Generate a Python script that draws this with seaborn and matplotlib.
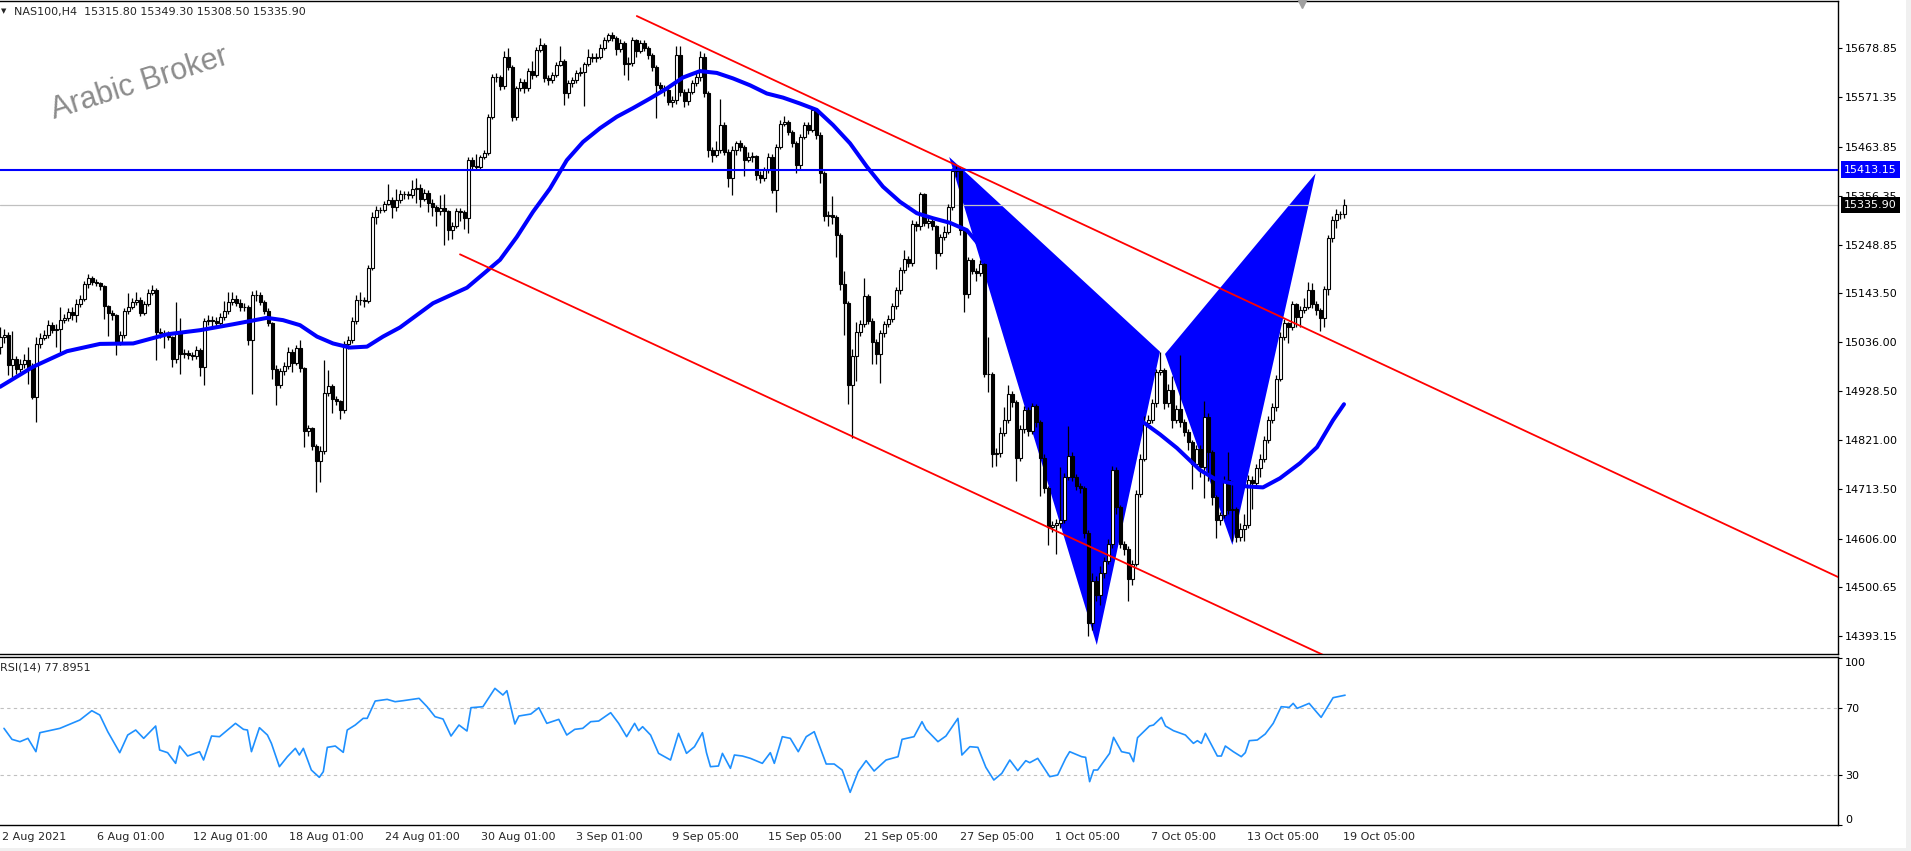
import matplotlib
matplotlib.use("Agg")
import matplotlib.pyplot as plt
import matplotlib.transforms as mtransforms
from matplotlib.patches import Rectangle
from matplotlib.lines import Line2D
import numpy as np
import seaborn as sns

sns.set_style("white")
plt.rcParams["font.family"] = ["DejaVu Sans"]

W, H = 1911, 851

# NAS100 H4 candles, bar 0 .. bar 336
first_open = 15025
closes = [
    15047, 15051, 14985, 14998, 14978, 14989, 14996, 14982, 14916, 15031,
    15046, 15051, 15074, 15062, 15064, 15085, 15089, 15101, 15095, 15119,
    15131, 15162, 15177, 15167, 15166, 15158, 15114, 15100, 15095, 15036,
    15052, 15104, 15113, 15123, 15129, 15100, 15120, 15144, 15151, 15058,
    15055, 15052, 15047, 14999, 15057, 15011, 15012, 15007, 15005, 15018,
    14982, 15082, 15084, 15082, 15078, 15091, 15104, 15123, 15131, 15122,
    15113, 15113, 15040, 15139, 15140, 15124, 15104, 15077, 14978, 14941,
    14972, 14983, 15014, 14990, 15022, 14979, 14841, 14847, 14809, 14776,
    14798, 14925, 14939, 14912, 14906, 14887, 15031, 15041, 15082, 15128,
    15128, 15126, 15199, 15310, 15326, 15326, 15339, 15348, 15331, 15346,
    15359, 15359, 15357, 15370, 15374, 15350, 15363, 15341, 15332, 15323,
    15330, 15322, 15282, 15290, 15322, 15321, 15307, 15434, 15422, 15420,
    15440, 15450, 15529, 15617, 15617, 15596, 15659, 15639, 15529, 15591,
    15606, 15591, 15629, 15620, 15675, 15686, 15613, 15609, 15620, 15642,
    15652, 15582, 15602, 15609, 15625, 15628, 15644, 15659, 15657, 15660,
    15680, 15696, 15708, 15701, 15677, 15691, 15644, 15647, 15697, 15673,
    15691, 15679, 15664, 15639, 15598, 15593, 15588, 15562, 15566, 15664,
    15584, 15563, 15584, 15602, 15615, 15659, 15580, 15457, 15445, 15457,
    15511, 15452, 15394, 15457, 15471, 15463, 15434, 15440, 15443, 15401,
    15394, 15412, 15442, 15369, 15463, 15514, 15518, 15496, 15471, 15423,
    15485, 15511, 15500, 15544, 15489, 15405, 15312, 15315, 15310, 15270,
    15164, 15122, 14942, 15005, 15059, 15075, 15137, 15083, 15036, 15009,
    15055, 15075, 15087, 15114, 15149, 15193, 15217, 15209, 15295, 15289,
    15359, 15297, 15301, 15289, 15231, 15266, 15277, 15332, 15410, 15414,
    15281, 15141, 15215, 15192, 15188, 15206, 14966, 14966, 14791, 14794,
    14837, 14865, 14923, 14904, 14783, 14845, 14888, 14841, 14896, 14861,
    14783, 14717, 14631, 14635, 14639, 14647, 14740, 14787, 14740, 14720,
    14717, 14619, 14421, 14514, 14483, 14530, 14558, 14595, 14755, 14675,
    14595, 14584, 14518, 14551, 14704, 14781, 14858, 14866, 14903, 14971,
    14974, 14903, 14932, 14866, 14890, 14861, 14839, 14817, 14770, 14803,
    14763, 14872, 14796, 14697, 14646, 14657, 14734, 14668, 14671, 14609,
    14628, 14635, 14734, 14728, 14761, 14781, 14821, 14865, 14894, 14956,
    15047, 15077, 15069, 15119, 15090, 15106, 15113, 15150, 15120, 15106,
    15088, 15153, 15263, 15304, 15316, 15315.8, 15335.9,
]
highs = [
    15070, 15065, 15058, 15061, 15006, 15000, 15010, 15025, 14990, 15047,
    15055, 15062, 15085, 15080, 15076, 15113, 15098, 15110, 15112, 15130,
    15140, 15170, 15184, 15180, 15173, 15168, 15160, 15118, 15106, 15098,
    15060, 15110, 15144, 15132, 15146, 15135, 15126, 15152, 15161, 15155,
    15066, 15062, 15060, 15050, 15123, 15088, 15020, 15018, 15015, 15028,
    15023, 15088, 15095, 15092, 15090, 15100, 15125, 15145, 15146, 15138,
    15130, 15122, 15118, 15147, 15150, 15146, 15128, 15110, 15080, 14985,
    14980, 14992, 15025, 15020, 15030, 15040, 14982, 14855, 14850, 14812,
    14808, 14996, 14975, 14945, 14918, 14910, 15038, 15050, 15090, 15138,
    15145, 15135, 15205, 15320, 15333, 15332, 15345, 15383, 15354, 15370,
    15368, 15366, 15366, 15390, 15394, 15383, 15372, 15368, 15350, 15336,
    15357, 15361, 15325, 15298, 15330, 15330, 15326, 15440, 15440, 15447,
    15446, 15457, 15535, 15623, 15625, 15620, 15672, 15680, 15642, 15597,
    15613, 15612, 15635, 15651, 15682, 15702, 15690, 15620, 15628, 15650,
    15685, 15656, 15610, 15615, 15632, 15638, 15650, 15678, 15668, 15668,
    15688, 15703, 15713, 15715, 15706, 15700, 15695, 15660, 15703, 15700,
    15698, 15696, 15684, 15668, 15642, 15606, 15598, 15592, 15575, 15684,
    15684, 15590, 15593, 15610, 15625, 15674, 15668, 15585, 15462, 15475,
    15568, 15518, 15458, 15465, 15477, 15478, 15467, 15452, 15452, 15446,
    15410, 15420, 15450, 15447, 15470, 15522, 15530, 15522, 15500, 15475,
    15492, 15518, 15517, 15551, 15548, 15495, 15410, 15322, 15355, 15315,
    15275, 15192, 15125, 15020, 15079, 15085, 15176, 15142, 15088, 15042,
    15062, 15082, 15095, 15122, 15156, 15200, 15237, 15225, 15303, 15302,
    15365, 15362, 15310, 15306, 15293, 15272, 15290, 15338, 15418, 15421,
    15418, 15285, 15222, 15220, 15198, 15215, 15210, 15048, 14970, 14805,
    14850, 14895, 14942, 14930, 14910, 14855, 14897, 14895, 14903, 14900,
    14866, 14790, 14722, 14645, 14648, 14763, 14750, 14853, 14795, 14748,
    14728, 14722, 14625, 14530, 14525, 14545, 14565, 14605, 14765, 14762,
    14680, 14600, 14590, 14560, 14712, 14790, 14875, 14877, 14912, 14978,
    15015, 14980, 14945, 14962, 14898, 15007, 14868, 14845, 14822, 14810,
    14810, 14908, 14880, 14800, 14702, 14665, 14742, 14795, 14733, 14675,
    14640, 14660, 14745, 14742, 14770, 14790, 14830, 14875, 14903, 14965,
    15058, 15086, 15080, 15125, 15122, 15115, 15132, 15167, 15165, 15125,
    15110, 15158, 15270, 15312, 15328, 15322, 15349.3,
]
lows = [
    15011, 15033, 14963, 14960, 14966, 14970, 14980, 14945, 14912, 14861,
    15024, 15040, 15045, 15055, 15025, 15015, 15078, 15083, 15085, 15080,
    15113, 15125, 15155, 15160, 15158, 15150, 15087, 15050, 15085, 15007,
    15030, 15045, 15098, 15108, 15118, 15092, 15095, 15115, 15140, 14996,
    15045, 15024, 15040, 14982, 14990, 14967, 15002, 14998, 14996, 15000,
    14962, 14943, 15074, 15072, 15070, 15072, 15085, 15098, 15118, 15115,
    15105, 15104, 15029, 14923, 15125, 15118, 15098, 15072, 14956, 14899,
    14935, 14965, 14978, 14970, 14985, 14970, 14806, 14830, 14800, 14707,
    14730, 14790, 14918, 14880, 14898, 14868, 14880, 15020, 15035, 15075,
    15118, 15113, 15121, 15193, 15295, 15318, 15320, 15335, 15308, 15323,
    15340, 15350, 15350, 15352, 15340, 15331, 15345, 15320, 15312, 15290,
    15313, 15248, 15259, 15262, 15285, 15300, 15284, 15275, 15415, 15413,
    15415, 15436, 15445, 15525, 15605, 15588, 15590, 15632, 15520, 15522,
    15586, 15580, 15585, 15612, 15615, 15670, 15605, 15598, 15604, 15615,
    15640, 15555, 15570, 15595, 15604, 15618, 15552, 15640, 15648, 15650,
    15655, 15675, 15692, 15695, 15665, 15670, 15621, 15610, 15640, 15660,
    15668, 15672, 15655, 15630, 15527, 15580, 15575, 15555, 15550, 15558,
    15575, 15550, 15555, 15578, 15596, 15608, 15572, 15440, 15430, 15440,
    15450, 15445, 15375, 15358, 15445, 15455, 15400, 15430, 15430, 15390,
    15385, 15388, 15407, 15362, 15321, 15458, 15508, 15490, 15462, 15405,
    15415, 15480, 15492, 15495, 15480, 15385, 15300, 15290, 15295, 15223,
    15150, 15051, 14900, 14826, 14950, 15050, 15068, 15075, 14989, 14989,
    14946, 15048, 15068, 15080, 15108, 15142, 15188, 15200, 15202, 15280,
    15282, 15290, 15285, 15282, 15195, 15225, 15260, 15272, 15326, 15398,
    15270, 15102, 15133, 15185, 15170, 15180, 14960, 14927, 14763, 14765,
    14785, 14830, 14858, 14895, 14732, 14775, 14838, 14830, 14835, 14850,
    14700, 14705, 14592, 14620, 14572, 14630, 14640, 14735, 14732, 14712,
    14705, 14608, 14393, 14405, 14470, 14460, 14520, 14550, 14585, 14660,
    14585, 14570, 14470, 14505, 14545, 14697, 14775, 14850, 14860, 14895,
    14965, 14890, 14895, 14848, 14860, 14850, 14830, 14800, 14715, 14762,
    14740, 14695, 14733, 14680, 14608, 14635, 14650, 14660, 14600, 14598,
    14600, 14600, 14630, 14670, 14720, 14740, 14773, 14815, 14860, 14885,
    14950, 15040, 15035, 15062, 15070, 15068, 15100, 15108, 15110, 15095,
    15060, 15070, 15140, 15255, 15285, 15305, 15308.5,
]

# moving average (blue curve), sampled along the bars
ma_bars = [0, 8.3, 16.75, 25, 33.3, 41.75, 50, 58.3, 66.75, 70.75, 75, 79.25, 83.25,
           87.5, 91.75, 95.75, 100, 108.25, 116.75, 125, 129.2, 133.25, 137.5, 141.7,
           145.75, 150, 154.2, 158.25, 162.5, 166.7, 170.75, 175, 179.2, 183.25, 187.5,
           191.7, 195.75, 200, 204.2, 208.25, 212.5, 216.7, 220.75, 225, 229.2, 233.25,
           237.5, 241.7, 250, 262.5, 275, 285.75, 290, 294.25, 300, 304.25, 311.75,
           315.75, 320, 325, 329.25, 333.25, 336]
ma_values = [14938, 14982, 15016, 15032, 15033, 15053, 15062, 15075, 15089, 15084, 15073,
             15048, 15033, 15024, 15026, 15048, 15068, 15121, 15155, 15216, 15266, 15321,
             15372, 15434, 15474, 15504, 15529, 15548, 15569, 15591, 15615, 15629, 15625,
             15613, 15598, 15580, 15571, 15558, 15544, 15511, 15471, 15420, 15376, 15343,
             15318, 15307, 15297, 15281, 15194, 15062, 14942, 14861, 14834, 14804, 14756,
             14734, 14720, 14718, 14738, 14771, 14806, 14865, 14900]

# RSI(14)
rsi_bars = [0, 2, 4, 6, 8, 9, 12, 14, 17, 19, 22, 24, 26, 29, 31, 33, 35, 38, 39, 41,
            43, 44, 46, 49, 50, 52, 54, 58, 60, 61, 62, 64, 66, 67, 69, 71, 73, 74, 75,
            77, 79, 80, 81, 83, 85, 86, 88, 90, 91, 93, 96, 98, 100, 104, 106, 108, 110,
            112, 114, 116, 117, 120, 123, 125, 126, 128, 129, 132, 134, 136, 139, 141,
            143, 145, 147, 149, 152, 154, 156, 158, 159, 160, 162, 164, 167, 169, 171,
            173, 175, 176, 177, 179, 180, 182, 183, 185, 187, 190, 192, 193, 195, 197,
            199, 201, 203, 206, 208, 210, 212, 214, 216, 218, 221, 224, 225, 228, 230,
            231, 234, 236, 239, 240, 242, 244, 246, 248, 250, 252, 254, 256, 257, 259,
            262, 264, 266, 267, 270, 271, 272, 273, 274, 277, 278, 280, 282, 283, 284,
            287, 288, 290, 291, 293, 296, 298, 299, 300, 301, 304, 305, 306, 308, 310,
            311, 312, 314, 316, 318, 320, 322, 323, 324, 327, 330, 333, 336]
rsi_values = [58, 51.4, 50, 52, 44, 55.4, 57, 58, 61, 63, 68.6, 66, 56, 43.4, 54, 57, 52,
              59.4, 45, 43.4, 37, 47.4, 41.4, 44, 39, 53.4, 53, 61, 57.4, 57, 44, 58.4, 54,
              49, 35, 41, 46, 42, 46, 33, 28.6, 32, 46.6, 47.4, 43.6, 57, 60, 64, 64, 74.4,
              75.4, 74, 74.6, 76, 71, 65, 63.6, 53.4, 60, 56.4, 70.4, 71, 82, 78, 80.6,
              60.6, 65.4, 66.6, 70.4, 61, 63.4, 54, 57.4, 58, 62, 62.4, 67.4, 61, 53, 61,
              56.6, 59, 54, 43, 39, 55, 43, 47, 55.4, 43.4, 35, 35.4, 43, 34, 42, 41.4, 40,
              37, 43.4, 37, 53, 52, 44, 53, 56, 36.6, 36.6, 33, 19.6, 32, 38.6, 32.4, 39,
              41, 51.4, 53, 62, 57.4, 50, 53.4, 64, 42, 47, 46.6, 34.6, 27, 31, 39, 32.6,
              38.6, 37.4, 40, 29, 30, 40, 44, 41, 40.6, 26, 33, 33, 43, 52.6, 44, 43, 38,
              52.4, 59.4, 60, 64.6, 59.4, 56.6, 54, 49, 50.6, 49, 55, 41.4, 41.4, 47.4, 44,
              41, 43.4, 50.6, 51, 54.6, 61, 71, 70.6, 73, 70, 73, 64.6, 76.4, 77.9]

# drawn objects: channel lines, harmonic pattern, levels
upper_line_bars = [159.2, 470]
upper_line_prices = [15749.5, 14479]
lower_line_bars = [115, 340]
lower_line_prices = [15228, 14314]
pattern_bars = [237.3, 274.2, 290.0, 291.25, 308.1, 328.9]   # X A B B' C D
pattern_prices = [15441, 14373, 15015, 15010, 14592, 15405]
level_price = 15413.15
bid_price = 15335.90

price_ticks = [15678.85, 15571.35, 15463.85, 15356.35, 15248.85, 15143.50, 15036.00,
               14928.50, 14821.00, 14713.50, 14606.00, 14500.65, 14393.15]
date_bars = [-1, 23, 47, 71, 95, 119, 143, 167, 191, 215, 239, 263, 287, 311, 335]
date_labels = ["2 Aug 2021", "6 Aug 01:00", "12 Aug 01:00", "18 Aug 01:00", "24 Aug 01:00",
               "30 Aug 01:00", "3 Sep 01:00", "9 Sep 05:00", "15 Sep 05:00",
               "21 Sep 05:00", "27 Sep 05:00", "1 Oct 05:00", "7 Oct 05:00",
               "13 Oct 05:00", "19 Oct 05:00"]

c = np.array(closes, dtype=float)
o = np.concatenate([[first_open], c[:-1]])
hi = np.array(highs, dtype=float)
lo = np.array(lows, dtype=float)
idx = np.arange(len(c))
up = c >= o

fig = plt.figure(figsize=(W / 100, H / 100), dpi=100)
ax = fig.add_axes([0, 1 - 654 / H, 1838 / W, 653 / H])
ax_rsi = fig.add_axes([0, 1 - 825 / H, 1838 / W, 168.3 / H])

# harmonic pattern (background)
ax.fill(pattern_bars[:3], pattern_prices[:3], color="#0000ff", lw=0, zorder=1)
ax.fill(pattern_bars[3:], pattern_prices[3:], color="#0000ff", lw=0, zorder=1)
ax.axhline(bid_price, color="#c0c0c0", lw=0.9, zorder=1.5)

# candles
ax.vlines(idx, lo, hi, color="black", lw=0.9, zorder=3)
ax.bar(idx[up], (c - o)[up], bottom=o[up], width=0.75, color="white",
       edgecolor="black", linewidth=0.8, zorder=3.5)
ax.bar(idx[~up], (o - c)[~up], bottom=c[~up], width=0.75, color="black",
       edgecolor="black", linewidth=0.8, zorder=3.5)

sns.lineplot(x=ma_bars, y=ma_values, ax=ax, color="#0000ff", linewidth=2.9,
             estimator=None, zorder=4)
ax.plot(upper_line_bars, upper_line_prices, color="#ff0000", lw=1.3, zorder=5)
ax.plot(lower_line_bars, lower_line_prices, color="#ff0000", lw=1.3, zorder=5)
ax.axhline(level_price, color="#0000ff", lw=1.5, zorder=5)

ax.set_xlim(0, 459.5)
ax.set_ylim(14353.4, 15782.4)
ax.set_xticks([])
ax.yaxis.tick_right()
ax.set_yticks(price_ticks)
ax.set_yticklabels([f"{v:.2f}" for v in price_ticks])
ax.tick_params(axis="y", length=3, width=0.8, pad=2, labelsize=8, colors="black")
ax.set_xlabel("")
ax.set_ylabel("")

blend = mtransforms.blended_transform_factory(ax.transAxes, ax.transData)
ax.text(1.0 + 6 / 1838, level_price, f"{level_price:.2f}", transform=blend, ha="left",
        va="center", fontsize=8, color="white", zorder=10, clip_on=False,
        bbox=dict(boxstyle="square,pad=0.3", facecolor="#0000ff", edgecolor="none"))
ax.text(1.0 + 6 / 1838, bid_price, f"{bid_price:.2f}", transform=blend, ha="left",
        va="center", fontsize=8, color="white", zorder=10, clip_on=False,
        bbox=dict(boxstyle="square,pad=0.3", facecolor="black", edgecolor="none"))

# RSI panel
ax_rsi.axhline(70, color="#c0c0c0", lw=0.8, ls=(0, (3, 3)))
ax_rsi.axhline(30, color="#c0c0c0", lw=0.8, ls=(0, (3, 3)))
sns.lineplot(x=rsi_bars, y=rsi_values, ax=ax_rsi, color="#1e90ff", linewidth=1.2,
             estimator=None)
ax_rsi.set_xlim(0, 459.5)
ax_rsi.set_ylim(0, 101)
ax_rsi.yaxis.tick_right()
ax_rsi.set_yticks([0, 30, 70, 100])
ax_rsi.set_yticklabels(["0", "30", "70", "100"])
ax_rsi.tick_params(axis="y", length=3, width=0.8, pad=2, labelsize=8, colors="black")
ylabels = ax_rsi.get_yticklabels()
ylabels[0].set_va("bottom")
ylabels[3].set_va("top")
ax_rsi.set_xticks(date_bars)
ax_rsi.set_xticklabels([""] * len(date_bars))
ax_rsi.tick_params(axis="x", length=4, width=0.8, direction="out", colors="black")
ax_rsi.set_xlabel("")
ax_rsi.set_ylabel("")
xblend = mtransforms.blended_transform_factory(ax_rsi.transData, ax_rsi.transAxes)
for b, lab in zip(date_bars, date_labels):
    ax_rsi.text(b + 0.4, -11.7 / 168.3, lab, transform=xblend, ha="left", va="center",
                fontsize=8, clip_on=False)

for a in (ax, ax_rsi):
    a.spines["left"].set_visible(False)
    for s in ("top", "right", "bottom"):
        a.spines[s].set_color("black")
        a.spines[s].set_linewidth(1.0)

# header texts and watermark
fig.text(1 / W, 1 - 11 / H, "\u25bc", fontsize=5, va="center", ha="left")
fig.text(14 / W, 1 - 12 / H, "NAS100,H4  15315.80 15349.30 15308.50 15335.90",
         fontsize=8, va="center", ha="left")
fig.text(0 / W, 1 - 668 / H, "RSI(14) 77.8951", fontsize=8, va="center", ha="left")
fig.text(140 / W, 1 - 84 / H, "Arabic Broker", fontsize=22, color="#8c8c8c",
         rotation=17.5, ha="center", va="center", family=["Liberation Sans", "DejaVu Sans"])
fig.add_artist(Line2D([1302 / W], [1 - 3 / H], marker="v", ms=7.5, color="#a0a0a0",
                      lw=0, transform=fig.transFigure))
fig.add_artist(Rectangle((1906 / W, 0), 5 / W, 1, transform=fig.transFigure,
                         facecolor="#f0f0f0", edgecolor="none"))
fig.add_artist(Rectangle((0, 0), 1, 3 / H, transform=fig.transFigure,
                         facecolor="#f0f0f0", edgecolor="none"))

fig.savefig("out.png", dpi=100, facecolor="white")
